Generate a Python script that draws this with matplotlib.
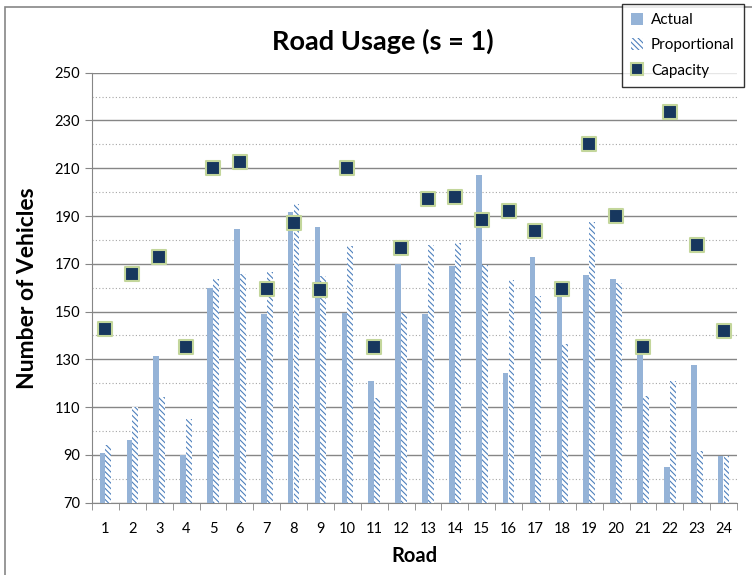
import numpy as np
import matplotlib
matplotlib.use("Agg")
import matplotlib.pyplot as plt
from matplotlib.patches import Rectangle
from matplotlib.lines import Line2D
from matplotlib.patches import Patch

roads = list(range(1, 25))
actual = [90.7, 96.2, 131.4, 90.0, 160.0, 184.4, 148.9, 191.6, 185.5, 149.3, 120.9, 170.0,
          148.9, 169.0, 207.0, 124.2, 173.0, 158.0, 165.3, 163.6, 133.9, 84.8, 127.5, 89.7]
proportional = [94.1, 110.2, 114.4, 105.0, 163.6, 165.6, 166.6, 194.9, 164.9, 177.5, 113.7, 149.5,
                177.9, 178.6, 169.6, 163.2, 156.5, 136.4, 187.4, 162.0, 114.8, 120.9, 91.8, 89.7]
capacity = [142.6, 165.6, 172.7, 135.0, 210.0, 212.8, 159.6, 187.0, 159.0, 210.0, 135.0, 176.7,
            197.0, 198.0, 188.2, 192.0, 183.7, 159.6, 220.0, 190.0, 135.0, 233.7, 177.9, 142.0]

FONT = ["Lato", "DejaVu Sans"]
plt.rcParams["font.family"] = FONT
plt.rcParams["hatch.linewidth"] = 0.8

fig = plt.figure(figsize=(7.52, 5.75), dpi=100)
ax = fig.add_axes([92/752, 1-502.7/575, (737-92)/752, (502.7-72.7)/575])

x = np.array(roads)
bottom = 70
HATCH = "\\" * 6
ax.bar(x - 0.11, np.array(actual) - bottom, bottom=bottom, width=0.21, color="#95B3D7", zorder=3)
ax.bar(x + 0.11, np.array(proportional) - bottom, bottom=bottom, width=0.22, color="white",
       edgecolor="#4F81BD", hatch=HATCH, linewidth=0, zorder=3)
ax.scatter(x, capacity, marker="s", s=90, color="#17375E", edgecolors="#C3D69B",
           linewidths=1.5, zorder=4)

ax.set_xlim(0.5, 24.5)
ax.set_ylim(70, 250)
ax.set_yticks(np.arange(70, 251, 20))
ax.set_yticks(np.arange(80, 250, 20), minor=True)
ax.set_xticks(x)
ax.set_xticks(np.arange(0.5, 25, 1), minor=True)
ax.tick_params(axis="x", which="major", length=0, labelsize=10.5, pad=14)
ax.tick_params(axis="x", which="minor", length=5, color="#868686", direction="out")
ax.tick_params(axis="y", which="major", length=5, color="#868686", labelsize=10.5)
ax.tick_params(axis="y", which="minor", length=0)
ax.grid(axis="y", which="major", color="#868686", linewidth=1.0, zorder=0)
ax.grid(axis="y", which="minor", color="#A6A6A6", linestyle=(0, (1, 2)), linewidth=0.8, zorder=0)
for s in ["top", "right"]:
    ax.spines[s].set_visible(False)
for s in ["left", "bottom"]:
    ax.spines[s].set_color("#868686")

ax.set_xlabel("Road", fontsize=14.5, fontweight="bold", labelpad=7)
ax.set_ylabel("Number of Vehicles", fontsize=16.5, fontweight="bold", labelpad=12)

fig.text(383/752, 1-41/575, "Road Usage (s = 1)", fontsize=19.5, fontweight="bold",
         ha="center", va="center")

# outer chart border
fig.add_artist(Rectangle((5/752, -0.1), 1.2, 1.1 - 7/575, transform=fig.transFigure,
                         fill=False, edgecolor="#868686", linewidth=1.2))

handles = [Patch(facecolor="#95B3D7", edgecolor="none"),
           Patch(facecolor="white", edgecolor="#4F81BD", hatch=HATCH, linewidth=0),
           Line2D([], [], marker="s", linestyle="none", markersize=9,
                  markerfacecolor="#17375E", markeredgecolor="#C3D69B", markeredgewidth=1.5)]
leg = fig.legend(handles, ["Actual", "Proportional", "Capacity"], loc="upper left",
                 bbox_to_anchor=(622/752, 1 - 4/575), fontsize=11, frameon=True, fancybox=False,
                 handlelength=0.8, handleheight=0.8, handletextpad=0.5, borderpad=0.6,
                 labelspacing=0.72, borderaxespad=0)
leg.get_frame().set_edgecolor("black")
leg.get_frame().set_linewidth(1.0)

fig.savefig("out.png", dpi=100)
